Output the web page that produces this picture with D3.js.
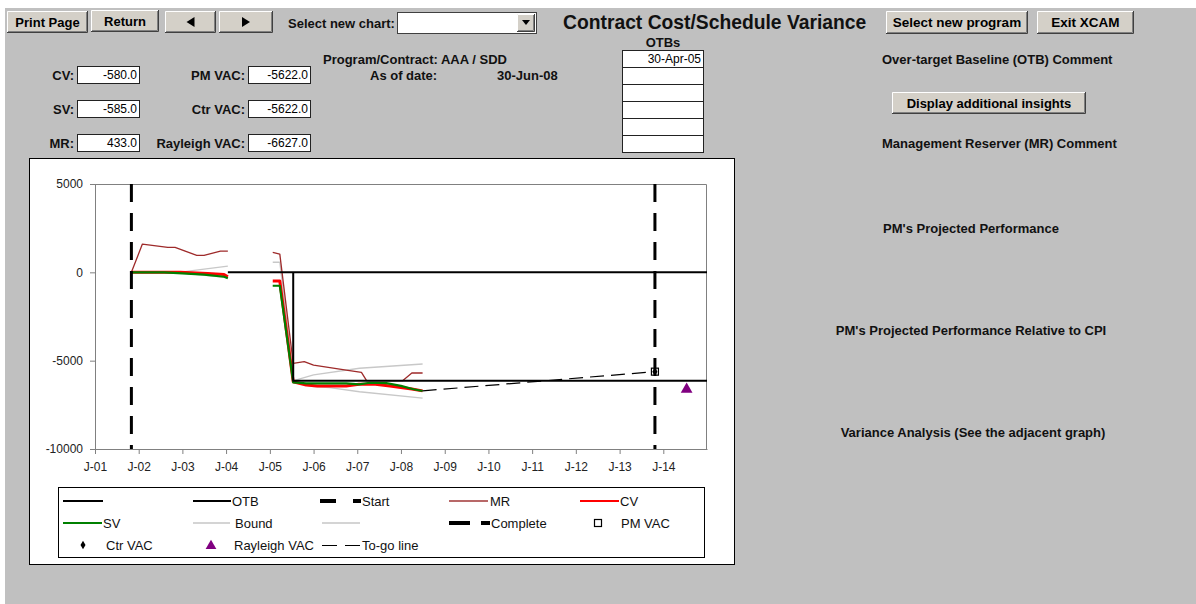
<!DOCTYPE html>
<html>
<head>
<meta charset="utf-8">
<script src="https://cdn.jsdelivr.net/npm/d3@7"></script>
<style>
  body { margin: 0; background: #c0c0c0; }
  svg { display: block; font-family: "Liberation Sans", Arial, sans-serif; }
</style>
</head>
<body>
<svg id="page" width="1196" height="604"></svg>
<script>
// ---------- data ----------
const yearLabels = ["J-01","J-02","J-03","J-04","J-05","J-06","J-07","J-08","J-09","J-10","J-11","J-12","J-13","J-14"];
const yTickValues = [5000, 0, -5000, -10000];

const startDate = "2001-11-01";
const completeDate = "2013-10-23";
const otbDate = "2005-07-15";
const otbLevel = -6130;
const asOfDate = "2008-06-30";

// [date, value]; null marks a break in the series
const zeroLine = [["2004-01-16", 0], ["2015-01-01", 0]];
const otbLine = [[otbDate, 0], [otbDate, otbLevel], ["2015-01-01", otbLevel]];

const mrSeries = [
  ["2001-11-01", 0], ["2002-02-01", 1600], ["2002-09-01", 1415], ["2002-11-01", 1415],
  ["2003-05-01", 960], ["2003-07-01", 960], ["2003-11-15", 1205], ["2004-01-16", 1205],
  null,
  ["2005-01-25", 1130], ["2005-03-25", 1035], ["2005-07-15", -5150], ["2005-10-15", -5060],
  ["2006-01-01", -5250], ["2006-10-01", -5530], ["2007-02-05", -5660], ["2007-03-20", -6130],
  ["2008-01-15", -6130], ["2008-04-01", -5697], [asOfDate, -5697]
];
const cvSeries = [
  ["2001-11-01", 0], ["2002-12-15", 0], ["2003-08-01", -60], ["2003-12-15", -120], ["2004-01-16", -250],
  null,
  ["2005-01-25", -490], ["2005-03-25", -490], ["2005-07-15", -6200], ["2005-11-01", -6380],
  ["2006-02-01", -6430], ["2006-10-01", -6430], ["2007-01-15", -6340], ["2007-06-01", -6340],
  ["2007-10-01", -6430], ["2008-01-15", -6530], ["2008-04-01", -6600], [asOfDate, -6710]
];
const svSeries = [
  ["2001-11-01", 0], ["2002-08-01", 0], ["2003-01-01", -60], ["2003-07-01", -130],
  ["2003-12-15", -250], ["2004-01-16", -340],
  null,
  ["2005-01-25", -760], ["2005-03-25", -760], ["2005-07-15", -6230], ["2005-11-01", -6280],
  ["2006-10-01", -6280], ["2007-01-15", -6340], ["2007-04-15", -6250], ["2007-09-01", -6270],
  ["2008-01-01", -6430], ["2008-04-15", -6620], [asOfDate, -6715]
];
const upperBound = [
  ["2001-11-01", 0], ["2003-01-01", 30], ["2004-01-16", 350],
  null,
  ["2005-01-25", 570], ["2005-03-25", 570], ["2005-07-20", -6130], ["2006-01-01", -5810],
  ["2007-01-20", -5430], [asOfDate, -5190]
];
const lowerBound = [
  ["2001-11-01", 0], ["2003-01-01", -40], ["2004-01-16", -300],
  null,
  ["2005-01-25", -760], ["2005-03-25", -760], ["2005-07-15", -6230], ["2006-01-01", -6470],
  ["2006-05-15", -6530], ["2007-01-20", -6760], [asOfDate, -7120]
];

const pmVac = -5622.0;
const ctrVac = -5622.0;
const rayleighVac = -6627.0;
const rayleighDate = "2014-07-15";
const toGoLine = [[asOfDate, -6710], [completeDate, pmVac]];

const leftFields = [["CV:", "-580.0"], ["SV:", "-585.0"], ["MR:", "433.0"]];
const rightFields = [["PM VAC:", "-5622.0"], ["Ctr VAC:", "-5622.0"], ["Rayleigh VAC:", "-6627.0"]];
const otbDates = ["30-Apr-05", "", "", "", "", ""];
const commentHeads = [
  ["Over-target Baseline (OTB) Comment", 882, 59, "start"],
  ["Management Reserver (MR) Comment", 882, 143, "start"],
  ["PM's Projected Performance", 971, 228, "middle"],
  ["PM's Projected Performance Relative to CPI", 971, 330, "middle"],
  ["Variance Analysis (See the adjacent graph)", 973, 432, "middle"]
];

// ---------- page ----------
const parse = d3.timeParse("%Y-%m-%d");
const svg = d3.select("#page");
svg.append("rect").attr("width", 1196).attr("height", 604).attr("fill", "#c0c0c0");
svg.append("rect").attr("width", 1196).attr("height", 8).attr("fill", "#ffffff");
svg.append("rect").attr("width", 5).attr("height", 604).attr("fill", "#ffffff");

function button(x, y, w, h, label, size) {
  const g = svg.append("g");
  g.append("rect").attr("x", x).attr("y", y).attr("width", w).attr("height", h).attr("fill", "#d4d0c8");
  g.append("path").attr("d", `M${x + 0.5},${y + h - 1}V${y + 0.5}H${x + w - 1}`).attr("stroke", "#ffffff").attr("fill", "none");
  g.append("path").attr("d", `M${x},${y + h - 0.5}H${x + w - 0.5}V${y}`).attr("stroke", "#404040").attr("fill", "none");
  g.append("path").attr("d", `M${x + 1},${y + h - 1.5}H${x + w - 1.5}V${y + 1}`).attr("stroke", "#808080").attr("fill", "none");
  if (label === "left" || label === "right") {
    const cx = x + w / 2, cy = y + h / 2, s = label === "left" ? -1 : 1;
    g.append("path").attr("d", `M${cx - 4 * s},${cy - 5}L${cx + 4 * s},${cy}L${cx - 4 * s},${cy + 5}Z`).attr("fill", "#000");
  } else {
    g.append("text").attr("x", x + w / 2).attr("y", y + h / 2).attr("dy", "0.36em")
      .attr("text-anchor", "middle").attr("font-weight", "bold").attr("font-size", size || 13)
      .attr("fill", "#000").text(label);
  }
}
button(7, 11, 81, 22, "Print Page", 13);
button(91, 10, 68, 22, "Return", 13);
button(165, 11, 51, 22, "left");
button(219, 11, 54, 22, "right");
button(886, 11, 142, 23, "Select new program", 13.5);
button(1037, 11, 97, 23, "Exit XCAM", 13.5);
button(892, 92, 194, 22, "Display additional insights", 13);

function label(x, y, t, opts = {}) {
  return svg.append("text").attr("x", x).attr("y", y).attr("dy", "0.36em")
    .attr("font-size", opts.size || 13).attr("font-weight", opts.weight || "bold")
    .attr("text-anchor", opts.anchor || "start").attr("fill", opts.fill || "#111").text(t);
}

// chart selector
label(288, 23, "Select new chart:");
svg.append("rect").attr("x", 397.5).attr("y", 12.5).attr("width", 139).attr("height", 21)
  .attr("fill", "#fff").attr("stroke", "#404040");
button(517, 14, 18, 18, "");
svg.append("path").attr("d", "M522,20L530,20L526,25Z").attr("fill", "#000");

label(563, 22, "Contract Cost/Schedule Variance", { size: 19.3 });

// summary fields
leftFields.forEach((f, i) => {
  const cy = 75 + i * 34;
  label(74, cy, f[0], { anchor: "end" });
  svg.append("rect").attr("x", 77.5).attr("y", cy - 8.5).attr("width", 62).attr("height", 17)
    .attr("fill", "#fff").attr("stroke", "#222");
  label(137, cy, f[1], { anchor: "end", weight: "normal", size: 12, fill: "#000" });
});
rightFields.forEach((f, i) => {
  const cy = 75 + i * 34;
  label(245, cy, f[0], { anchor: "end" });
  svg.append("rect").attr("x", 248.5).attr("y", cy - 8.5).attr("width", 62).attr("height", 17)
    .attr("fill", "#fff").attr("stroke", "#222");
  label(308, cy, f[1], { anchor: "end", weight: "normal", size: 12, fill: "#000" });
});
label(323, 59, "Program/Contract: AAA / SDD");
label(370, 75, "As of date:");
label(497, 75, "30-Jun-08");

// OTB list
label(663, 42, "OTBs", { anchor: "middle" });
otbDates.forEach((d, i) => {
  svg.append("rect").attr("x", 622.5).attr("y", 50.5 + i * 17).attr("width", 81).attr("height", 17)
    .attr("fill", "#fff").attr("stroke", "#222");
  if (d) label(701, 59 + i * 17, d, { anchor: "end", weight: "normal", size: 12, fill: "#000" });
});

commentHeads.forEach(c => label(c[1], c[2], c[0], { anchor: c[3] }));

// ---------- chart ----------
svg.append("rect").attr("x", 29.5).attr("y", 158.5).attr("width", 705).attr("height", 406)
  .attr("fill", "#fff").attr("stroke", "#000");

const x = d3.scaleTime().domain([new Date(2001, 0, 1), new Date(2015, 0, 1)]).range([95, 707]);
const y = d3.scaleLinear().domain([-10000, 5000]).range([449, 184]);

const plot = svg.append("g");
plot.append("path").attr("d", `M95,184.5H706.5V449`).attr("fill", "none").attr("stroke", "#808080");

const tickDates = yearLabels.map((_, i) => new Date(2001 + i, 0, 1));
const xAxis = plot.append("g").attr("transform", "translate(0,449)")
  .call(d3.axisBottom(x).tickValues(tickDates).tickFormat((d, i) => yearLabels[i]).tickSize(5).tickSizeOuter(0).tickPadding(8));
const yAxis = plot.append("g").attr("transform", "translate(95,0)")
  .call(d3.axisLeft(y).tickValues(yTickValues).tickFormat(d => String(d)).tickSize(5).tickSizeOuter(0).tickPadding(7));
[xAxis, yAxis].forEach(a => {
  a.select(".domain").attr("stroke", "#808080");
  a.selectAll(".tick line").attr("stroke", "#808080");
  a.selectAll("text").attr("font-size", 12).attr("fill", "#222").attr("font-family", "Liberation Sans, Arial, sans-serif");
});

const line = d3.line().defined(d => d !== null).x(d => x(parse(d[0]))).y(d => y(d[1]));
function series(data, stroke, width, dash) {
  const p = plot.append("path").datum(data).attr("d", line).attr("fill", "none")
    .attr("stroke", stroke).attr("stroke-width", width).attr("stroke-linejoin", "round");
  if (dash) p.attr("stroke-dasharray", dash);
  return p;
}

series(upperBound, "#c8c8c8", 1.3);
series(lowerBound, "#c8c8c8", 1.3);
series(mrSeries, "#9e2a2a", 1.3);
series(cvSeries, "#ff0000", 3);
series(svSeries, "#008000", 2.2);
series(zeroLine, "#000", 2);
series(otbLine, "#000", 2);
series([[startDate, 5000], [startDate, -10000]], "#000", 3, "18,11");
series([[completeDate, 5000], [completeDate, -10000]], "#000", 3, "18,11");
series(toGoLine, "#000", 1.2, "14,7");

const pmX = x(parse(completeDate));
plot.append("rect").attr("x", pmX - 3.5).attr("y", y(pmVac) - 3.5).attr("width", 7).attr("height", 7)
  .attr("fill", "none").attr("stroke", "#000").attr("stroke-width", 1.2);
plot.append("path").attr("d", d3.symbol(d3.symbolDiamond, 22)())
  .attr("transform", `translate(${x(parse(completeDate))},${y(ctrVac)})`).attr("fill", "#000");
plot.append("path").attr("d", d3.symbol(d3.symbolTriangle, 60)())
  .attr("transform", `translate(${x(parse(rayleighDate))},${y(rayleighVac)})`).attr("fill", "#800080");

// ---------- legend ----------
const lg = svg.append("g");
lg.append("rect").attr("x", 58.5).attr("y", 487.5).attr("width", 646).attr("height", 70)
  .attr("fill", "#fff").attr("stroke", "#000");
const rows = [501, 523, 545];
function lgLine(x1, x2, r, stroke, w) {
  const yy = rows[r] + (w % 2 ? 0.5 : 0);
  lg.append("line").attr("x1", x1).attr("x2", x2).attr("y1", yy).attr("y2", yy)
    .attr("stroke", stroke).attr("stroke-width", w);
}
function lgText(x0, r, t) {
  lg.append("text").attr("x", x0).attr("y", rows[r]).attr("dy", "0.36em").attr("font-size", 13)
    .attr("fill", "#111").text(t);
}
lgLine(63, 103, 0, "#000", 2);
lgLine(193, 231, 0, "#000", 2); lgText(232, 0, "OTB");
lgLine(320, 336, 0, "#000", 4); lgLine(353, 361, 0, "#000", 4); lgText(362, 0, "Start");
lgLine(449, 488, 0, "#b86868", 2); lgText(490, 0, "MR");
lgLine(580, 619, 0, "#ff0000", 2); lgText(620, 0, "CV");
lgLine(63, 102, 1, "#008000", 2); lgText(103, 1, "SV");
lgLine(193, 230, 1, "#d4d4d4", 2); lgText(235, 1, "Bound");
lgLine(322, 360, 1, "#d4d4d4", 2);
lgLine(449, 470, 1, "#000", 4); lgLine(481, 490, 1, "#000", 4); lgText(491, 1, "Complete");
lg.append("rect").attr("x", 594.5).attr("y", rows[1] - 3.5).attr("width", 7).attr("height", 7)
  .attr("fill", "none").attr("stroke", "#000").attr("stroke-width", 1.2);
lgText(621, 1, "PM VAC");
lg.append("path").attr("d", d3.symbol(d3.symbolDiamond, 22)()).attr("transform", `translate(83,${rows[2]})`).attr("fill", "#000");
lgText(106, 2, "Ctr VAC");
lg.append("path").attr("d", d3.symbol(d3.symbolTriangle, 50)()).attr("transform", `translate(211,${rows[2] + 1})`).attr("fill", "#800080");
lgText(234, 2, "Rayleigh VAC");
lgLine(322, 337, 2, "#000", 1); lgLine(345, 360, 2, "#000", 1);
lgText(362, 2, "To-go line");
</script>
</body>
</html>
